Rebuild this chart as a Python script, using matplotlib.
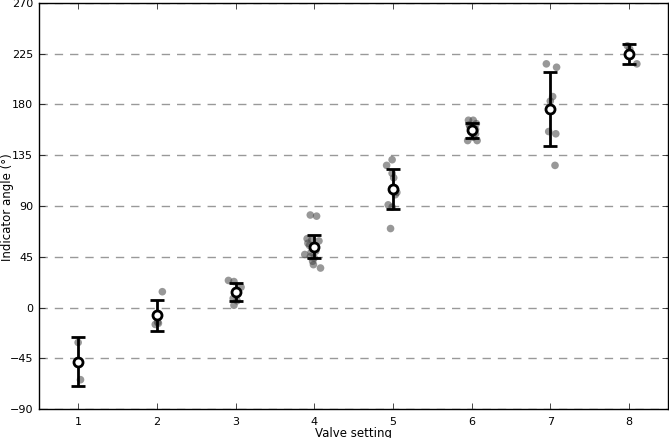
import numpy as np
import matplotlib
matplotlib.use("Agg")
import matplotlib.pyplot as plt

settings = [1, 2, 3, 4, 5, 6, 7, 8]
mean_angle = [-48, -7, 14, 54, 105, 157, 176, 225]
err_angle = [22, 14, 8, 10, 18, 7, 33, 9]

# individual readings (x jittered around the setting, as drawn)
pts_x = {
    1: [1.00, 1.03],
    2: [2.07, 2.01, 2.02, 1.98],
    3: [2.91, 2.98, 3.07, 2.97, 3.02, 2.98],
    4: [3.95, 4.03, 3.91, 3.97, 4.06, 3.94, 3.99, 3.96, 3.88, 3.95, 4.00, 3.98, 3.99, 4.08, 3.92, 4.02],
    5: [4.99, 4.92, 4.99, 5.01, 5.05, 5.03, 4.94, 4.99, 4.97],
    6: [5.96, 6.02, 6.06, 5.98, 6.05, 6.02, 5.95, 6.07, 5.97, 6.05],
    7: [6.95, 7.08, 7.03, 7.00, 6.98, 7.07, 7.06],
    8: [8.10, 7.98, 8.01],
}
pts_y = {
    1: [-31, -64],
    2: [14, -13, -14, -15],
    3: [24, 23, 18, 8, 6, 2],
    4: [82, 81, 61, 60, 59, 55, 53, 49, 47, 45, 44, 41, 38, 35, 57, 50],
    5: [131, 126, 119, 115, 102, 100, 91, 89, 70],
    6: [166, 166, 163, 160, 154, 151, 148, 148, 162, 158],
    7: [216, 213, 187, 183, 156, 154, 126],
    8: [216, 232, 229],
}

plt.style.use("classic")
plt.rcParams.update({
    "font.family": "DejaVu Sans",
    "font.size": 8.5,
    "xtick.labelsize": 8,
    "ytick.labelsize": 8,
    "xtick.major.pad": 5,
    "ytick.major.pad": 4,
})

fig = plt.figure(figsize=(6.69, 4.39), dpi=100)
ax = fig.add_axes([0.058, 0.066, 0.941, 0.925])

for s in settings:
    ax.scatter(pts_x[s], pts_y[s], s=30, color="#444444", alpha=0.55,
               edgecolors="none", zorder=2)

ax.errorbar(settings, mean_angle, yerr=err_angle, fmt="o", color="black",
            mfc="white", mec="black", mew=2, ms=6.5, elinewidth=2,
            capsize=5, capthick=2, zorder=3)

ax.set_xlim(0.5, 8.5)
ax.set_ylim(-90, 270)
ax.set_xticks(settings)
ax.set_yticks(np.arange(-90, 271, 45))
ax.yaxis.grid(True, linestyle=(0, (6, 5)), color="#999999", linewidth=1)
ax.xaxis.grid(False)
ax.set_axisbelow(True)
ax.set_xlabel("Valve setting")
ax.set_ylabel("Indicator angle (°)")
ax.xaxis.set_label_coords(0.5, -0.041)
ax.yaxis.set_label_coords(-0.040, 0.5)

fig.savefig("out.png", dpi=100)
